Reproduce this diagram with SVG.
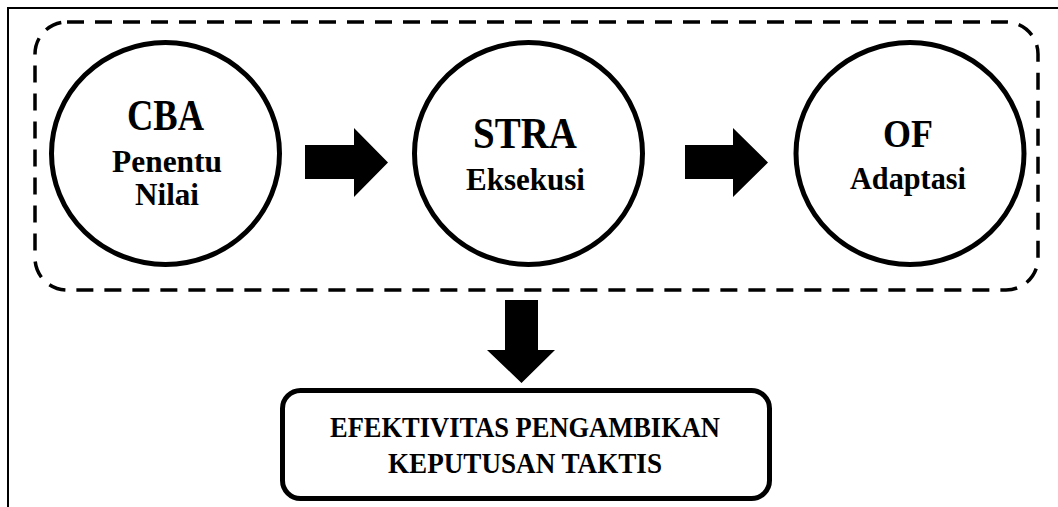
<svg xmlns="http://www.w3.org/2000/svg" width="1058" height="507" viewBox="0 0 1058 507">
<style>
.frame{fill:none;stroke:#000;stroke-width:2}
.group{fill:none;stroke:#000;stroke-width:3.5;stroke-dasharray:17 11}
.node{fill:#fff;stroke:#000;stroke-width:5}
.arrow{fill:#000;stroke:none}
.t{font-family:"Liberation Serif","Times New Roman",serif;font-weight:bold;fill:#000;text-anchor:middle}
.big{font-size:45px}
.of{font-size:41px}
.mid{font-size:31px}
.box{font-size:29px}
</style>
<rect width="1058" height="507" fill="#fff"/>
<path class="frame" d="M8,507 V8 H1058"/>
<g id="container">
<rect class="group" x="35" y="22" width="1003" height="268" rx="32" ry="32"/>
</g>
<g id="node-cba">
<ellipse class="node" cx="165.5" cy="153.5" rx="114" ry="111"/>
<text class="t big" x="165.5" y="130" textLength="77" lengthAdjust="spacingAndGlyphs">CBA</text>
<text class="t mid" x="167" y="172" textLength="110" lengthAdjust="spacingAndGlyphs">Penentu</text>
<text class="t mid" x="167" y="205" textLength="64" lengthAdjust="spacingAndGlyphs">Nilai</text>
</g>
<g id="node-stra">
<ellipse class="node" cx="528.5" cy="153.5" rx="114" ry="111"/>
<text class="t big" x="525" y="148" textLength="104" lengthAdjust="spacingAndGlyphs">STRA</text>
<text class="t mid" x="525.5" y="190" textLength="119" lengthAdjust="spacingAndGlyphs">Eksekusi</text>
</g>
<g id="node-of">
<ellipse class="node" cx="910" cy="153.5" rx="114" ry="111"/>
<text class="t of" x="908" y="147" textLength="50" lengthAdjust="spacingAndGlyphs">OF</text>
<text class="t mid" x="908" y="189" textLength="116" lengthAdjust="spacingAndGlyphs">Adaptasi</text>
</g>
<g id="node-result">
<rect class="node" x="282.5" y="390.5" width="487" height="108" rx="18" ry="18"/>
<text class="t box" x="525" y="437" textLength="390" lengthAdjust="spacingAndGlyphs">EFEKTIVITAS PENGAMBIKAN</text>
<text class="t box" x="525" y="473" textLength="274" lengthAdjust="spacingAndGlyphs">KEPUTUSAN TAKTIS</text>
</g>
<g id="connectors">
<polygon class="arrow" points="305,145 354,145 354,128 388,162.5 354,197 354,179 305,179"/>
<polygon class="arrow" points="685,145 733,145 733,128 768,162.5 733,197 733,179 685,179"/>
<polygon class="arrow" points="505,300 538,300 538,350 555,350 521.5,383 487,350 505,350"/>
</g>
</svg>
